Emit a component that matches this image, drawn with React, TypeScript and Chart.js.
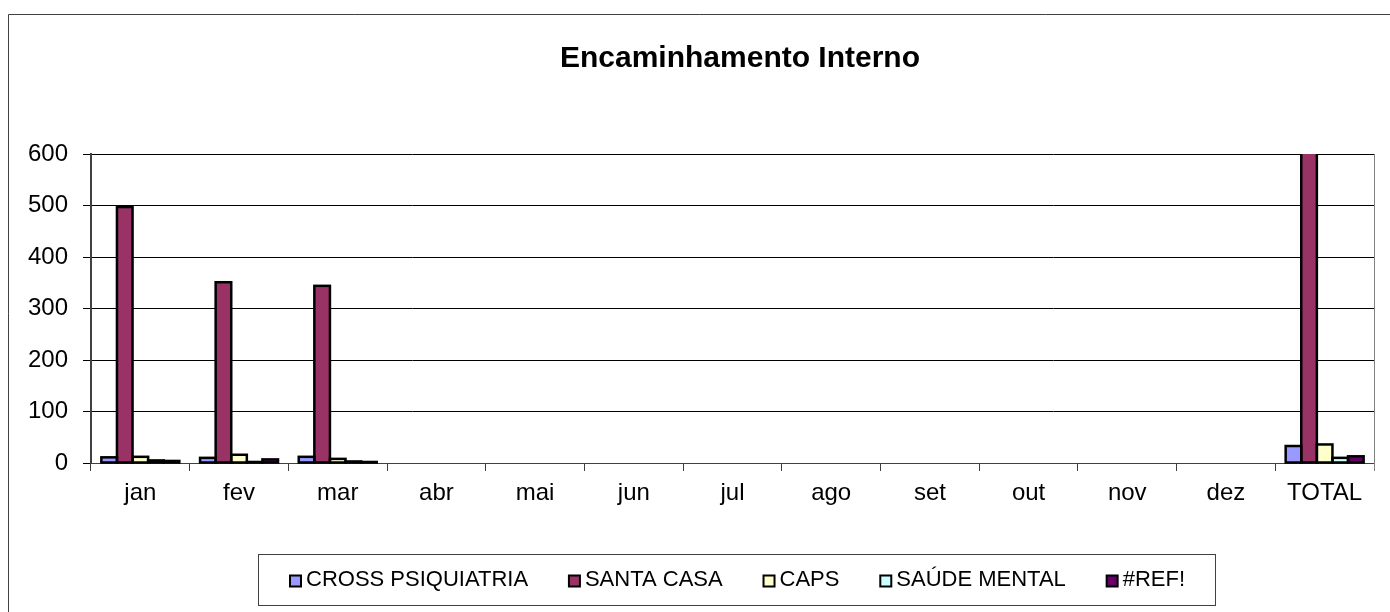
import React, { useEffect, useRef } from "react";
import { Chart, registerables } from "chart.js";

Chart.register(...registerables);

const categories = ["jan", "fev", "mar", "abr", "mai", "jun", "jul", "ago", "set", "out", "nov", "dez", "TOTAL"];
const crossPsiquiatria = [11, 10, 12, null, null, null, null, null, null, null, null, null, 33];
const santaCasa = [497, 351, 344, null, null, null, null, null, null, null, null, null, 1192];
const caps = [12, 16, 8, null, null, null, null, null, null, null, null, null, 36];
const saudeMental = [5, 2, 3, null, null, null, null, null, null, null, null, null, 10];
const refErr = [4, 7, 2, null, null, null, null, null, null, null, null, null, 13];
const yTicks = [0, 100, 200, 300, 400, 500, 600];

const seriesNames = ["CROSS PSIQUIATRIA", "SANTA CASA", "CAPS", "SAÚDE MENTAL", "#REF!"];
const seriesColors = ["#9999FF", "#993366", "#FFFFCC", "#CCFFFF", "#660066"];
const seriesData = [crossPsiquiatria, santaCasa, caps, saudeMental, refErr];
const title = "Encaminhamento Interno";

const FONT = "'Liberation Sans', Arial, sans-serif";

const decorPlugin = {
  id: "decor",
  beforeDraw(chart: any) {
    const ctx = chart.ctx;
    ctx.save();
    ctx.fillStyle = "#fff";
    ctx.fillRect(0, 0, chart.width, chart.height);
    ctx.strokeStyle = "#404040";
    ctx.lineWidth = 1;
    ctx.beginPath();
    ctx.moveTo(8.5, chart.height + 5);
    ctx.lineTo(8.5, 14.5);
    ctx.lineTo(chart.width + 5, 14.5);
    ctx.stroke();
    ctx.fillStyle = "#000";
    ctx.font = `bold 30px ${FONT}`;
    ctx.textAlign = "center";
    ctx.textBaseline = "middle";
    ctx.fillText(title, 740, 59);
    ctx.restore();
  },
  afterDatasetsDraw(chart: any) {
    // Excel-style outlines centred on the bar edges
    const ctx = chart.ctx;
    const ca = chart.chartArea;
    ctx.save();
    ctx.beginPath();
    ctx.rect(ca.left, ca.top, ca.right - ca.left, ca.bottom - ca.top + 3);
    ctx.clip();
    ctx.strokeStyle = "#000";
    ctx.lineWidth = 2.5;
    chart.data.datasets.forEach((_: any, di: number) => {
      const meta = chart.getDatasetMeta(di);
      meta.data.forEach((el: any, idx: number) => {
        const v = chart.data.datasets[di].data[idx];
        if (v === null || v === undefined) return;
        const p = el.getProps(["x", "y", "base", "width"], true);
        const l = p.x - p.width / 2;
        ctx.strokeRect(l, p.y, p.width, p.base - p.y);
      });
    });
    ctx.restore();
  },
  afterDraw(chart: any) {
    const ctx = chart.ctx;
    const ca = chart.chartArea;
    ctx.save();
    ctx.strokeStyle = "#808080";
    ctx.lineWidth = 1;
    ctx.beginPath();
    ctx.moveTo(Math.round(ca.right) + 0.5, ca.top);
    ctx.lineTo(Math.round(ca.right) + 0.5, ca.bottom + 8);
    ctx.stroke();

    const bx = 258, by = 554, bw = 957, bh = 51;
    ctx.strokeStyle = "#404040";
    ctx.lineWidth = 1;
    ctx.strokeRect(bx + 0.5, by + 0.5, bw, bh);
    ctx.font = `22px ${FONT}`;
    ctx.textBaseline = "middle";
    ctx.textAlign = "left";
    const sq = 11;
    const gapSq = 5;
    const widths = seriesNames.map((n) => ctx.measureText(n).width);
    const startX = 290;
    const endX = 1185;
    const content = widths.reduce((a, w) => a + sq + gapSq + w, 0);
    const gap = (endX - startX - content) / (seriesNames.length - 1);
    let x = startX;
    const cy = 580;
    seriesNames.forEach((n, i) => {
      ctx.fillStyle = seriesColors[i];
      ctx.fillRect(x, cy - sq / 2 + 1, sq, sq);
      ctx.strokeStyle = "#000";
      ctx.lineWidth = 2;
      ctx.strokeRect(x, cy - sq / 2 + 1, sq, sq);
      ctx.fillStyle = "#000";
      ctx.fillText(n, x + sq + gapSq, cy);
      x += sq + gapSq + widths[i] + gap;
    });
    ctx.restore();
  },
};

export default function App() {
  const ref = useRef<HTMLCanvasElement>(null);
  useEffect(() => {
    document.body.style.margin = "0";
    const chart = new Chart(ref.current!, {
      type: "bar",
      data: {
        labels: categories,
        datasets: seriesData.map((d, i) => ({
          label: seriesNames[i],
          data: d as any,
          backgroundColor: seriesColors[i],
          borderWidth: 0,
          categoryPercentage: 0.79,
          barPercentage: 1,
          clip: 0,
        })),
      },
      options: {
        responsive: false,
        animation: false,
        layout: { padding: { left: 0, top: 154, right: 16, bottom: 89 } },
        plugins: {
          legend: { display: false },
          title: { display: false },
          tooltip: { enabled: false },
        },
        scales: {
          x: {
            grid: {
              offset: true,
              drawOnChartArea: false,
              drawTicks: true,
              tickLength: 8,
              color: "#404040",
            },
            border: { display: true, color: "#404040", width: 1 },
            ticks: {
              color: "#000",
              font: { family: FONT, size: 24 },
              padding: 8,
              maxRotation: 0,
              autoSkip: false,
            },
            afterFit: (s: any) => {
              s.height = 60;
            },
          },
          y: {
            min: 0,
            max: 600,
            afterBuildTicks: (s: any) => {
              s.ticks = yTicks.map((v) => ({ value: v }));
            },
            grid: {
              color: "#000",
              lineWidth: 1,
              tickLength: 8,
              drawTicks: true,
            },
            border: { display: true, color: "#404040", width: 2 },
            ticks: {
              color: "#000",
              font: { family: FONT, size: 24 },
              padding: 15,
            },
            afterFit: (s: any) => {
              s.width = 91;
            },
          },
        },
      },
      plugins: [decorPlugin],
    });
    return () => chart.destroy();
  }, []);
  return (
    <div style={{ width: 1390, height: 612 }}>
      <canvas ref={ref} width={1390} height={612} style={{ display: "block" }} />
    </div>
  );
}
